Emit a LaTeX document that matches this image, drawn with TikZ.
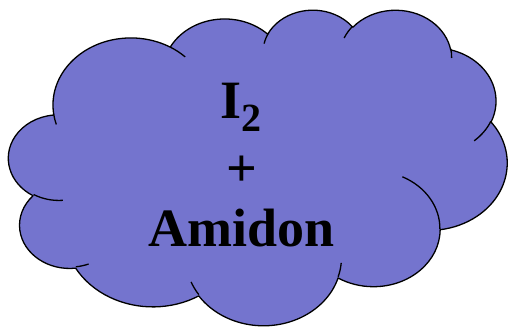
\documentclass[tikz,border=0pt]{standalone}
\usepackage{fontspec}
\setmainfont{Liberation Serif}
\definecolor{cloudfill}{RGB}{116,116,206}
\newcommand\cldarc[4]{arc[x radius=#1, y radius=#2, start angle={atan2((#1)*sin(#3),(#2)*cos(#3))}, delta angle={mod(atan2((#1)*sin((#3)+(#4)),(#2)*cos((#3)+(#4)))-atan2((#1)*sin(#3),(#2)*cos(#3))+720,360)}]}
\tikzset{
  cloudline/.style={line width=1.3pt, line join=round},
  lbl/.style={inner sep=0pt, anchor=base, font=\bfseries\fontsize{54}{60}\selectfont}
}
\begin{document}
\begin{tikzpicture}[x=1pt,y=-1pt]
\useasboundingbox (0,0) rectangle (508,327);
\begin{scope}[shift={(8.7,9.14)},x=1.1535pt,y=-0.7303pt]
\draw[cloudline, fill=cloudfill] (39.00,143.70)
  \cldarc{67.53}{91.90}{-190.4875}{123.7805}
  \cldarc{53.33}{72.67}{-144.1024}{89.9452}
  \cldarc{43.65}{59.45}{-145.8079}{99.7230}
  \cldarc{48.57}{65.95}{-130.9861}{117.2417}
  \cldarc{53.33}{72.73}{-78.7089}{109.0269}
  \cldarc{67.75}{92.20}{-46.2673}{130.2690}
  \cldarc{57.85}{78.67}{0.6250}{114.0333}
  \cldarc{67.52}{92.15}{22.4516}{115.1726}
  \cldarc{77.20}{105.43}{66.2426}{75.7110}
  \cldarc{43.60}{59.18}{-274.9421}{146.7356}
  \cldarc{43.45}{59.45}{-246.8285}{152.5189}
  -- cycle;
\draw[cloudline]
  (46.93,261.77) \cldarc{43.45}{59.45}{86.7420}{26.4295}
  (69.28,348.99) \cldarc{43.60}{59.18}{73.6105}{11.4475}
  (164.78,390.90) \cldarc{67.52}{92.15}{137.6242}{14.0811}
  (288.27,347.51) \cldarc{67.52}{92.15}{6.4533}{15.9984}
  (341.29,229.54) \cldarc{57.85}{78.67}{-70.2924}{70.9174}
  (417.98,153.54) \cldarc{53.33}{72.73}{30.3180}{27.7515}
  (383.24,54.26) \cldarc{48.57}{65.95}{-13.7443}{14.8512}
  (290.78,39.52) \cldarc{48.57}{65.95}{-149.1815}{18.1907}
  (221.41,47.20) \cldarc{43.65}{59.45}{-163.4943}{19.0064}
  (140.00,51.92) \cldarc{67.53}{91.90}{-66.7070}{12.3194}
  (41.27,157.89) \cldarc{67.53}{91.90}{157.6544}{11.8582};
\end{scope}
\node[lbl] (iodine) at (241,118.3) {I\raisebox{-13.5pt}{\fontsize{40}{40}\selectfont 2}};
\node[lbl] (plus) at (241.5,186.5) {+};
\node[lbl] (amidon) at (241.5,246.7) {Amidon};
\end{tikzpicture}
\end{document}
